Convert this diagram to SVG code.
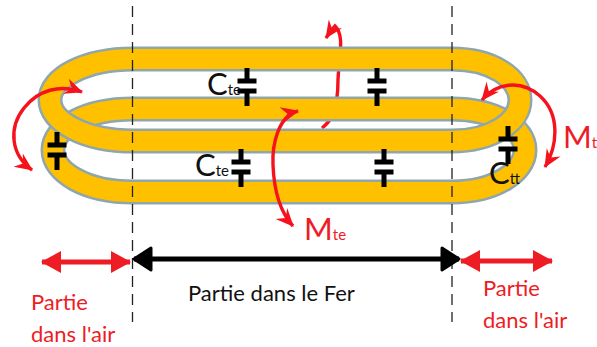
<svg xmlns="http://www.w3.org/2000/svg" width="597" height="347" viewBox="0 0 597 347">
<style>
text{font-family:Lato,"Liberation Sans",sans-serif}
.r{fill:#ee1c25}.k{fill:#111}
.edge{fill:none;stroke:#8fa6ad;stroke-width:25}
.core{fill:none;stroke:#ffc000;stroke-width:20}
.red{fill:none;stroke:#f5121c;stroke-width:3.400}
.dash{fill:none;stroke:#222;stroke-width:1.3;stroke-dasharray:11 7}
.plate{stroke:#000;stroke-width:5;fill:none}
.big{font-size:31px}.sub{font-size:15px}.lab{font-size:22px}
</style>
<defs>
<marker id="rh" markerWidth="22" markerHeight="18" refX="17" refY="9" orient="auto-start-reverse" markerUnits="userSpaceOnUse"><path d="M0,1L18,9L0,17L6,9Z" fill="#f5121c"/></marker>
<marker id="dr" markerWidth="24" markerHeight="26" refX="21" refY="13" orient="auto-start-reverse" markerUnits="userSpaceOnUse"><path d="M2,2L22,13L2,24Z" fill="#ee1c25"/></marker>
<marker id="dk" markerWidth="24" markerHeight="28" refX="20" refY="14" orient="auto-start-reverse" markerUnits="userSpaceOnUse"><path d="M3,3L20,14L3,25Z" fill="#000" stroke="#000" stroke-width="3" stroke-linejoin="round"/></marker>
<g id="capacitor"><path class="plate" d="M0,-18V-5M-9.500,-5H9.500M-9.500,5H9.500M0,5V20"/></g>
</defs>
<g id="connectors">
<path id="mte-back" class="red" marker-end="url(#rh)" d="M322,128C330,122 338,112 338,80C339,55 345,36 335,26C333,28 330,32 326,38"/>
</g>
<g id="lower-turn">
<path class="edge" d="M452,109H133C85,109 53,128 53,150C53,172 85,192 133,192H452C495,192 525,172 525,150C525,128 495,109 452,109Z"/>
<path class="core" d="M452,109H133C85,109 53,128 53,150C53,172 85,192 133,192H452C495,192 525,172 525,150C525,128 495,109 452,109Z"/>
</g>
<g id="upper-turn">
<path class="edge" d="M452,59H133C85,59 50,78 50,100C50,122 85,141 133,141H452C492,141 520,122 520,100C520,78 492,59 452,59Z"/>
<path class="core" d="M452,59H133C85,59 50,78 50,100C50,122 85,141 133,141H452C492,141 520,122 520,100C520,78 492,59 452,59Z"/>
</g>
<g id="guides">
<path class="dash" d="M132.500,6V322"/>
<path class="dash" d="M452,6V322"/>
</g>
<g id="cap-1"><use href="#capacitor" x="247" y="86"/><text class="big k" x="207" y="95">C<tspan class="sub">te</tspan></text></g>
<g id="cap-2"><use href="#capacitor" x="241" y="167"/><text class="big k" x="195" y="176">C<tspan class="sub">te</tspan></text></g>
<g id="cap-3"><use href="#capacitor" x="377" y="86"/></g>
<g id="cap-4"><use href="#capacitor" x="384" y="167"/></g>
<g id="cap-5"><use href="#capacitor" x="57" y="150"/></g>
<g id="cap-6"><use href="#capacitor" x="508" y="144"/><text class="big k" x="489" y="184">C<tspan class="sub">tt</tspan></text></g>
<g id="arrows">
<path class="red" marker-start="url(#rh)" marker-end="url(#rh)" d="M82,92C60,84 38,90 24,108C8,128 11,155 32,170"/>
<path class="red" marker-start="url(#rh)" marker-end="url(#rh)" d="M482,100C495,84 520,78 540,96C560,114 558,145 545,167"/>
<path class="red" marker-start="url(#rh)" marker-end="url(#rh)" d="M298,111C278,116 272,145 273,165C274,190 280,212 293,226"/>
<path d="M42,262H130" stroke="#ee1c25" stroke-width="5" marker-start="url(#dr)" marker-end="url(#dr)" fill="none"/>
<path d="M461,261H552" stroke="#ee1c25" stroke-width="5" marker-start="url(#dr)" marker-end="url(#dr)" fill="none"/>
<path d="M134,259H459" stroke="#000" stroke-width="5" marker-start="url(#dk)" marker-end="url(#dk)" fill="none"/>
</g>
<g id="labels">
<text class="big r" x="563" y="148">M<tspan class="sub">t</tspan></text>
<text class="big r" x="304" y="240">M<tspan class="sub">te</tspan></text>
<text class="lab k" x="188" y="301">Partie dans le Fer</text>
<text class="lab r" x="31" y="310">Partie</text><text class="lab r" x="31" y="342">dans l'air</text>
<text class="lab r" x="483" y="296">Partie</text><text class="lab r" x="483" y="328">dans l'air</text>
</g>
</svg>
